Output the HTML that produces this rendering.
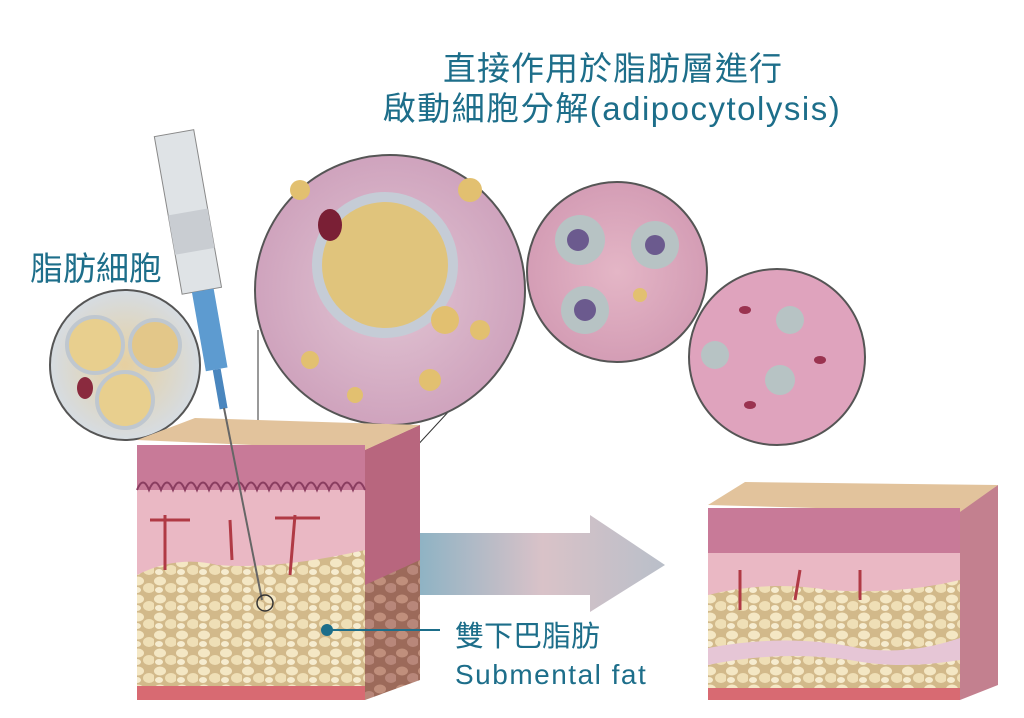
<!DOCTYPE html>
<html><head><meta charset="utf-8"><style>
body{margin:0;background:#fff;}
svg{display:block}
.t{font-family:"Liberation Sans","Noto Sans CJK TC",sans-serif;fill:#1d6e8a;}
</style></head><body>
<svg width="1024" height="718" viewBox="0 0 1024 718" xmlns="http://www.w3.org/2000/svg">
<defs>
<linearGradient id="ar" x1="0" x2="1"><stop offset="0" stop-color="#8fb3c4"/><stop offset="0.5" stop-color="#d9c2c8"/><stop offset="1" stop-color="#b9bfc9"/></linearGradient>
<pattern id="fat" width="22" height="18" patternUnits="userSpaceOnUse"><rect width="22" height="18" fill="#d2b98a"/><ellipse cx="6" cy="5" rx="6" ry="4.5" fill="#f4e7c4"/><ellipse cx="17" cy="12" rx="6" ry="5" fill="#efdfb6"/><ellipse cx="5" cy="14" rx="4" ry="3" fill="#f6ecd0"/></pattern>
<pattern id="fatd" width="22" height="18" patternUnits="userSpaceOnUse"><rect width="22" height="18" fill="#9c6a5a"/><ellipse cx="6" cy="5" rx="6" ry="4.5" fill="#c08f7c"/><ellipse cx="17" cy="12" rx="6" ry="5" fill="#b8877a"/></pattern>
<radialGradient id="c1"><stop offset="0" stop-color="#e6d0a0"/><stop offset="1" stop-color="#d6dce2"/></radialGradient>
<radialGradient id="c2"><stop offset="0" stop-color="#e2c6d4"/><stop offset="1" stop-color="#cfa3bd"/></radialGradient>
<radialGradient id="c3"><stop offset="0" stop-color="#e4b6c6"/><stop offset="1" stop-color="#d49db5"/></radialGradient>
</defs>

<text class="t" x="613" y="80" font-size="33" letter-spacing="1" text-anchor="middle">直接作用於脂肪層進行</text>
<text class="t" x="612" y="120" font-size="33" letter-spacing="1.5" text-anchor="middle">啟動細胞分解(adipocytolysis)</text>
<text class="t" x="30" y="280" font-size="33">脂肪細胞</text>

<circle cx="125" cy="365" r="75" fill="url(#c1)" stroke="#555" stroke-width="2"/>
<circle cx="95" cy="345" r="28" fill="#e8cf8e" stroke="#bfc7cf" stroke-width="4"/>
<circle cx="155" cy="345" r="25" fill="#e3c789" stroke="#bfc7cf" stroke-width="4"/>
<circle cx="125" cy="400" r="28" fill="#e8cf8e" stroke="#bfc7cf" stroke-width="4"/>
<ellipse cx="85" cy="388" rx="8" ry="11" fill="#8a2a3e"/>

<line x1="258" y1="601" x2="258" y2="330" stroke="#333" stroke-width="1"/>
<line x1="270" y1="605" x2="450" y2="410" stroke="#333" stroke-width="1"/>
<circle cx="390" cy="290" r="135" fill="url(#c2)" stroke="#555" stroke-width="2"/>
<circle cx="385" cy="265" r="68" fill="#e0c47c" stroke="#c5ccd6" stroke-width="10"/>
<ellipse cx="330" cy="225" rx="12" ry="16" fill="#7a1f35"/>
<circle cx="300" cy="190" r="10" fill="#e2c070"/><circle cx="470" cy="190" r="12" fill="#e2c070"/>
<circle cx="480" cy="330" r="10" fill="#e2c070"/><circle cx="310" cy="360" r="9" fill="#e2c070"/>
<circle cx="430" cy="380" r="11" fill="#e2c070"/><circle cx="355" cy="395" r="8" fill="#e2c070"/>
<circle cx="445" cy="320" r="14" fill="#e2c070"/>

<circle cx="617" cy="272" r="90" fill="url(#c3)" stroke="#555" stroke-width="2"/>
<circle cx="580" cy="240" r="25" fill="#b7c3c4"/><circle cx="578" cy="240" r="11" fill="#6b5a8e"/>
<circle cx="655" cy="245" r="24" fill="#b7c3c4"/><circle cx="655" cy="245" r="10" fill="#6b5a8e"/>
<circle cx="585" cy="310" r="24" fill="#b7c3c4"/><circle cx="585" cy="310" r="11" fill="#6b5a8e"/>
<circle cx="640" cy="295" r="7" fill="#e2c070"/>

<circle cx="777" cy="357" r="88" fill="#dfa3bd" stroke="#555" stroke-width="2"/>
<circle cx="790" cy="320" r="14" fill="#b7c3c4"/><circle cx="715" cy="355" r="14" fill="#b7c3c4"/><circle cx="780" cy="380" r="15" fill="#b7c3c4"/>
<ellipse cx="745" cy="310" rx="6" ry="4" fill="#9a3350"/><ellipse cx="820" cy="360" rx="6" ry="4" fill="#9a3350"/><ellipse cx="750" cy="405" rx="6" ry="4" fill="#9a3350"/>

<polygon points="420,533 590,533 590,515 665,565 590,612 590,595 420,595" fill="url(#ar)"/>

<polygon points="365,450 420,425 420,680 365,700" fill="url(#fatd)"/>
<polygon points="365,450 420,425 420,560 365,585" fill="#b8667e"/>
<polygon points="137,440 365,450 420,425 195,418" fill="#e2c39c"/>
<rect x="137" y="445" width="228" height="255" fill="#eab8c4"/>
<rect x="137" y="445" width="228" height="45" fill="#c87a98"/>
<path d="M137,490 q6,-15 12,0 q6,-15 12,0 q6,-15 12,0 q6,-15 12,0 q6,-15 12,0 q6,-15 12,0 q6,-15 12,0 q6,-15 12,0 q6,-15 12,0 q6,-15 12,0 q6,-15 12,0 q6,-15 12,0 q6,-15 12,0 q6,-15 12,0 q6,-15 12,0 q6,-15 12,0 q6,-15 12,0 q6,-15 12,0 q6,-15 12,0" fill="none" stroke="#8a3d60" stroke-width="2"/>
<path d="M137,575 q40,-20 80,-10 q60,5 148,-15 L365,688 L137,688 Z" fill="url(#fat)"/>
<rect x="137" y="686" width="228" height="14" fill="#d86a72"/>
<path d="M165,515 L165,570 M150,520 L190,520 M295,515 L290,575 M275,518 L320,518 M230,520 L232,560" stroke="#b03a45" stroke-width="3" fill="none"/>

<g transform="rotate(-10 205 280)">
<rect x="180" y="130" width="40" height="160" fill="#dfe3e6" stroke="#888"/>
<rect x="180" y="210" width="40" height="40" fill="#c9cdd2"/>
<rect x="190" y="290" width="22" height="80" fill="#5d9bd0"/>
<rect x="197" y="370" width="8" height="40" fill="#4a86be"/>
</g>
<line x1="224" y1="408" x2="262" y2="600" stroke="#666" stroke-width="2"/>
<circle cx="265" cy="603" r="8" fill="none" stroke="#333" stroke-width="1.5"/>

<circle cx="327" cy="630" r="6" fill="#1d6e8a"/>
<line x1="327" y1="630" x2="440" y2="630" stroke="#1d6e8a" stroke-width="2"/>
<text class="t" x="455" y="646" font-size="29">雙下巴脂肪</text>
<text class="t" x="455" y="684" font-size="28" letter-spacing="1.5">Submental fat</text>

<polygon points="960,510 998,485 998,685 960,700" fill="#c3808f"/>
<polygon points="708,505 960,512 998,485 745,482" fill="#e2c39c"/>
<rect x="708" y="508" width="252" height="192" fill="#eab8c4"/>
<rect x="708" y="508" width="252" height="45" fill="#c87a98"/>
<path d="M708,595 q60,-15 120,-5 q70,5 132,-10 L960,690 L708,690 Z" fill="url(#fat)"/>
<path d="M708,648 q80,-15 150,0 q50,8 102,-10 L960,660 q-60,10 -110,0 q-70,-10 -142,5 Z" fill="#e6c6d6"/>
<rect x="708" y="688" width="252" height="12" fill="#d86a72"/>
<path d="M740,570 L740,610 M800,570 L795,600 M860,570 L860,600" stroke="#b03a45" stroke-width="3"/>
</svg>
</body></html>
